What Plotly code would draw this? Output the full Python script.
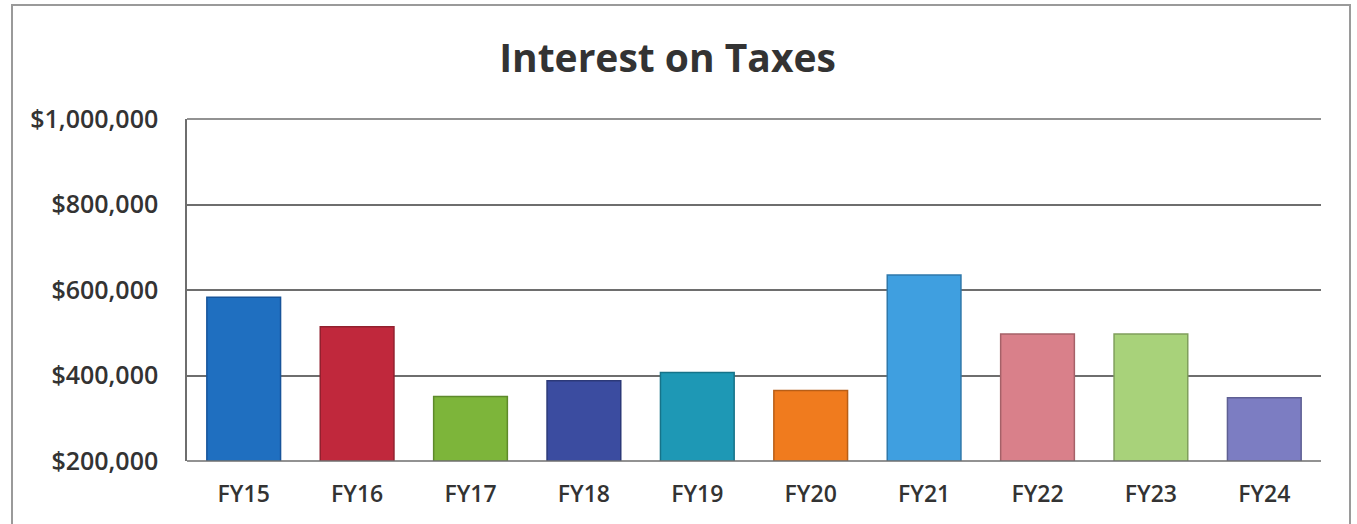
import plotly.graph_objects as go

categories = ["FY15", "FY16", "FY17", "FY18", "FY19", "FY20", "FY21", "FY22", "FY23", "FY24"]
values = [583000, 514000, 351000, 388000, 407000, 365000, 635000, 497000, 497000, 348000]
colors = ["#1F6FC0", "#C0283C", "#7DB53A", "#3B4CA0", "#1E98B5",
          "#F07B1E", "#3F9FE0", "#D9808A", "#A8D27A", "#7C7DC2"]
outlines = ["#17549A", "#92202E", "#5E8A2B", "#2C3978", "#167389",
            "#B85E17", "#2F78AA", "#A56168", "#809F5C", "#5E5F93"]
y_ticks = [200000, 400000, 600000, 800000, 1000000]
y_tick_labels = ["$200,000", "$400,000", "$600,000", "$800,000", "$1,000,000"]

W, H = 1357, 524
L, R, T, B = 187, 36, 119, 63

fig = go.Figure(go.Bar(
    x=categories, y=values,
    marker=dict(color=colors, line=dict(color=outlines, width=1.5)),
    hoverinfo="x+y",
))

font_fam = "Open Sans"
fig.update_layout(
    width=W, height=H,
    margin=dict(l=L, r=R, t=T, b=B),
    paper_bgcolor="white", plot_bgcolor="white",
    bargap=0.35,
    showlegend=False,
    title=dict(text="Interest on Taxes", x=667.5 / W, xanchor="center",
               y=1 - 58 / H, yanchor="middle", yref="container",
               font=dict(family=font_fam, size=39, color="#333333", weight="bold")),
    xaxis=dict(showgrid=False, showline=False, ticks="", ticklabelstandoff=17,
               tickfont=dict(family=font_fam, size=23, color="#333333", weight=600)),
    yaxis=dict(range=[200000, 1000000], tickvals=y_ticks, ticktext=y_tick_labels,
               showgrid=True, gridcolor="#6E6E6E", gridwidth=1.5,
               showline=True, linecolor="#6E6E6E", linewidth=1.5,
               zeroline=False, ticks="", ticklabelstandoff=22,
               tickfont=dict(family=font_fam, size=25, color="#333333", weight=600)),
)

pw, ph = W - L - R, H - T - B
def px(x): return (x - L) / pw
def py(y): return (H - B - y) / ph

# outer chart frame
fig.add_shape(type="rect", xref="paper", yref="paper",
              x0=px(12), x1=px(1350), y0=py(526), y1=py(5),
              line=dict(color="#9A9A9A", width=2), layer="below")
# top gridline and bottom axis line
for yy in (0, 1):
    fig.add_shape(type="line", xref="paper", yref="paper",
                  x0=0, x1=1, y0=yy, y1=yy, line=dict(color="#6E6E6E", width=1.5))

fig.write_html("out.html")
